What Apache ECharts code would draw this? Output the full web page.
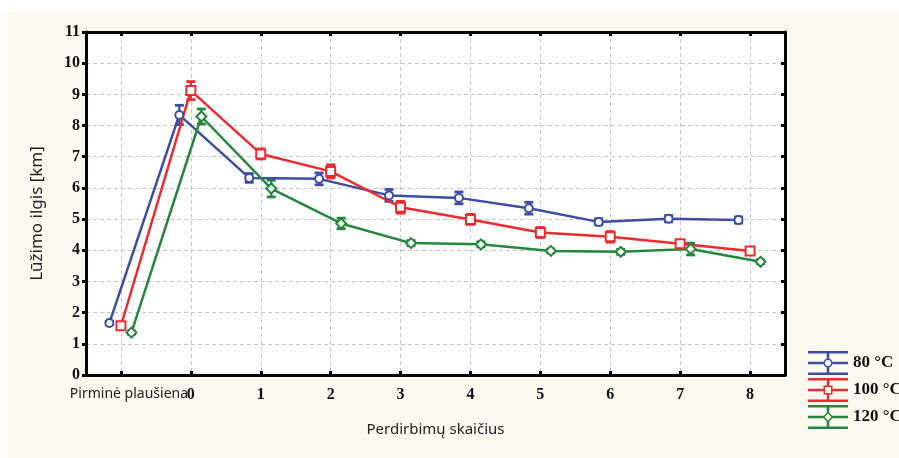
<!DOCTYPE html>
<html>
<head>
<meta charset="utf-8">
<script src="https://cdn.jsdelivr.net/npm/echarts@6/dist/echarts.min.js"></script>
<style>
  html, body { margin: 0; padding: 0; background: #ffffff; }
  #chart { width: 899px; height: 458px; }
</style>
</head>
<body>
<div id="chart"></div>
<script>
// Categories along the x axis: pulp before recycling, then recycling counts 0..8
const categories = ['Pirminė plaušiena', '0', '1', '2', '3', '4', '5', '6', '7', '8'];
const yTicks = [0, 1, 2, 3, 4, 5, 6, 7, 8, 9, 10, 11];
const seriesNames = ['80 °C', '100 °C', '120 °C'];

// Breaking length, km (means) and half-widths of the error bars
const mean80  = [1.67, 8.34, 6.32, 6.29, 5.76, 5.68, 5.35, 4.91, 5.01, 4.97];
const err80   = [0.05, 0.31, 0.14, 0.19, 0.19, 0.19, 0.19, 0.10, 0.10, 0.10];
const mean100 = [1.58, 9.12, 7.09, 6.53, 5.38, 4.99, 4.57, 4.43, 4.21, 3.98];
const err100  = [0.05, 0.29, 0.16, 0.21, 0.19, 0.16, 0.16, 0.17, 0.08, 0.06];
const mean120 = [1.36, 8.29, 5.98, 4.86, 4.23, 4.19, 3.98, 3.95, 4.04, 3.63];
const err120  = [0.05, 0.24, 0.27, 0.17, 0.08, 0.08, 0.06, 0.08, 0.19, 0.06];

const colors = ['#3a4ea3', '#ee2b2c', '#25873c'];
const symbols = ['emptyCircle', 'emptyRect', 'emptyDiamond'];
const symbolSizes = [8, 9, 10];
const dodge = [-0.165, 0, 0.15];   // horizontal shift of each series within a category

// Legend glyphs: error bar with caps and a hollow marker in the middle
const legendIcons = [
  'path://M0,0H40V2.5H0Z M0,21.5H40V24H0Z M0,10.75H15.5V13.25H0Z M24.5,10.75H40V13.25H24.5Z M18.75,0H21.25V7.5H18.75Z M18.75,16.5H21.25V24H18.75Z ' +
    'M15.5,12A4.5,4.5 0 1,0 24.5,12A4.5,4.5 0 1,0 15.5,12Z M17,12A3,3 0 1,1 23,12A3,3 0 1,1 17,12Z',
  'path://M0,0H40V2.5H0Z M0,21.5H40V24H0Z M0,10.75H15.5V13.25H0Z M24.5,10.75H40V13.25H24.5Z M18.75,0H21.25V7.5H18.75Z M18.75,16.5H21.25V24H18.75Z ' +
    'M15.5,7.5H24.5V16.5H15.5Z M17,9V15H23V9Z',
  'path://M0,0H40V2.5H0Z M0,21.5H40V24H0Z M0,10.75H15.5V13.25H0Z M24.5,10.75H40V13.25H24.5Z M18.75,0H21.25V7.5H18.75Z M18.75,16.5H21.25V24H18.75Z ' +
    'M20,6.5L25.5,12L20,17.5L14.5,12Z M20,8.6L16.6,12L20,15.4L23.4,12Z'
];

const means = [mean80, mean100, mean120];
const errs = [err80, err100, err120];
const tickIdx = categories.map((c, i) => i);
const countIdx = tickIdx.slice(1);   // numeric recycling counts
const baseIdx = [0];                 // the pulp before recycling

function errorBarRenderer(color) {
  return function (params, api) {
    const x = api.value(0);
    const top = api.coord([x, api.value(2)]);
    const bot = api.coord([x, api.value(1)]);
    const hw = 4.5;
    return {
      type: 'group',
      children: [
        { type: 'line', shape: { x1: top[0], y1: top[1], x2: bot[0], y2: bot[1] }, style: { stroke: color, lineWidth: 2.2 } },
        { type: 'line', shape: { x1: top[0] - hw, y1: top[1], x2: top[0] + hw, y2: top[1] }, style: { stroke: color, lineWidth: 2.8 } },
        { type: 'line', shape: { x1: bot[0] - hw, y1: bot[1], x2: bot[0] + hw, y2: bot[1] }, style: { stroke: color, lineWidth: 2.8 } }
      ]
    };
  };
}

const series = [];
// Mean lines with hollow markers
seriesNames.forEach((name, s) => {
  series.push({
    name: name,
    type: 'line',
    z: 3,
    data: means[s].map((m, i) => [i + dodge[s], m]),
    symbol: symbols[s],
    symbolSize: symbolSizes[s],
    lineStyle: { color: colors[s], width: 2.5 },
    itemStyle: { color: colors[s], borderWidth: 1.6 },
    animation: false
  });
});
// Error bars drawn underneath the markers
seriesNames.forEach((name, s) => {
  series.push({
    name: name,
    type: 'custom',
    z: 2,
    renderItem: errorBarRenderer(colors[s]),
    itemStyle: { color: colors[s] },
    data: means[s].map((m, i) => [i + dodge[s], m - errs[s][i], m + errs[s][i]]),
    silent: true
  });
});

const serif = 'Liberation Serif';
const sans = 'Noto Sans';
const xMin = -0.5;
const xMax = categories.length - 0.5;

const option = {
  backgroundColor: '#ffffff',
  animation: false,
  color: colors,
  graphic: [
    { type: 'rect', left: 7, top: 12, z: -1, silent: true, shape: { width: 892, height: 446 }, style: { fill: '#fcf9f1' } }
  ],
  grid: { left: 86, top: 32, right: 114, bottom: 83, show: true, backgroundColor: '#ffffff', borderWidth: 0 },
  legend: {
    orient: 'vertical',
    left: 803,
    top: 346,
    itemWidth: 40,
    itemHeight: 24,
    itemGap: 3,
    selectedMode: false,
    itemStyle: { borderWidth: 0 },
    textStyle: { fontFamily: serif, fontSize: 17, fontWeight: 'bold', color: '#111' },
    data: seriesNames.map((n, s) => ({ name: n, icon: legendIcons[s], itemStyle: { color: colors[s], borderWidth: 0 } }))
  },
  xAxis: [
    {
      type: 'value',
      min: xMin,
      max: xMax,
      position: 'bottom',
      name: 'Perdirbimų skaičius',
      nameLocation: 'middle',
      nameGap: 47,
      nameTextStyle: { fontFamily: sans, fontSize: 15, color: '#222' },
      axisLine: { show: true, onZero: false, lineStyle: { color: '#000', width: 3 } },
      axisTick: { show: true, inside: true, length: 4, customValues: tickIdx, lineStyle: { color: '#000', width: 3 } },
      axisLabel: {
        customValues: countIdx,
        margin: 12,
        fontFamily: serif, fontSize: 16, fontWeight: 'bold', color: '#111',
        formatter: function (v) { return categories[Math.round(v)]; }
      },
      splitLine: { show: true, lineStyle: { color: '#c8c8c8', width: 1, type: [4, 3] } }
    },
    {
      type: 'value',
      min: xMin,
      max: xMax,
      position: 'top',
      axisLine: { show: true, onZero: false, lineStyle: { color: '#000', width: 3 } },
      axisTick: { show: true, inside: true, length: 4, customValues: tickIdx, lineStyle: { color: '#000', width: 3 } },
      axisLabel: { show: false },
      splitLine: { show: false }
    },
    {
      // label for the pulp before recycling, on its own axis so it can sit under the "0" tick area
      type: 'value',
      min: xMin,
      max: xMax,
      position: 'bottom',
      axisLine: { show: false, onZero: false },
      axisTick: { show: false },
      axisLabel: {
        customValues: baseIdx,
        margin: 12,
        fontFamily: sans, fontSize: 14, color: '#222',
        padding: [0, 0, 0, 16],
        formatter: function (v) { return categories[Math.round(v)]; }
      },
      splitLine: { show: false }
    }
  ],
  yAxis: [
    {
      type: 'value',
      min: yTicks[0],
      max: yTicks[yTicks.length - 1],
      interval: 1,
      position: 'left',
      name: 'Lūžimo ilgis [km]',
      nameLocation: 'middle',
      nameGap: 40,
      nameTextStyle: { fontFamily: sans, fontSize: 17, color: '#222', padding: [0, 20, 0, 0] },
      axisLine: { show: true, onZero: false, lineStyle: { color: '#000', width: 3 } },
      axisTick: { show: true, inside: false, length: 4, lineStyle: { color: '#000', width: 3 } },
      axisLabel: { margin: 6, fontFamily: serif, fontSize: 16, fontWeight: 'bold', color: '#111' },
      splitLine: { show: true, lineStyle: { color: '#c8c8c8', width: 1, type: [4, 3] } }
    },
    {
      type: 'value',
      min: yTicks[0],
      max: yTicks[yTicks.length - 1],
      interval: 1,
      position: 'right',
      axisLine: { show: true, onZero: false, lineStyle: { color: '#000', width: 3 } },
      axisTick: { show: true, inside: true, length: 4, lineStyle: { color: '#000', width: 3 } },
      axisLabel: { show: false },
      splitLine: { show: false }
    }
  ],
  series: series
};

const chart = echarts.init(document.getElementById('chart'), null, { renderer: 'canvas' });
chart.setOption(option);
</script>
</body>
</html>
